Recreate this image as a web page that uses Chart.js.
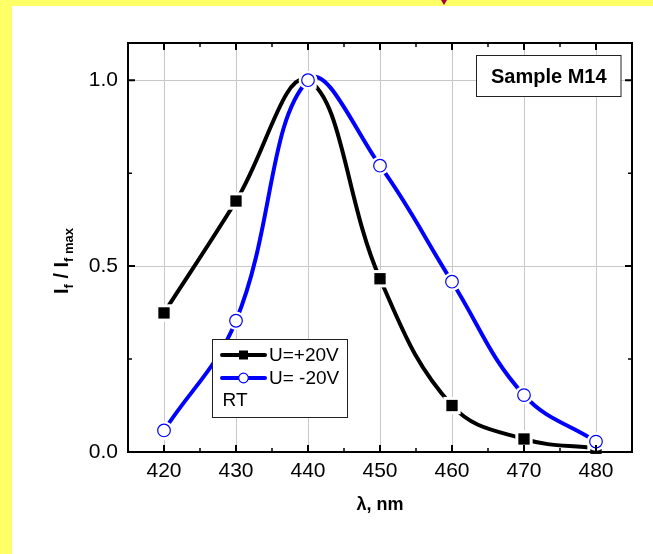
<!DOCTYPE html>
<html>
<head>
<meta charset="utf-8">
<script src="https://cdn.jsdelivr.net/npm/chart.js@4.4.1/dist/chart.umd.min.js"></script>
<style>
  html, body { margin: 0; padding: 0; }
  body { width: 653px; height: 554px; background: #ffff66; position: relative; overflow: hidden; }
  #panel { position: absolute; left: 12px; top: 6px; width: 641px; height: 548px; background: #fff; }
  #mark { position: absolute; left: 441px; top: 0; width: 0; height: 0;
          border-left: 3px solid transparent; border-right: 3px solid transparent; border-top: 5px solid #a8003a; }
</style>
</head>
<body>
<div id="panel"><canvas id="chart" width="641" height="548"></canvas></div>
<div id="mark"></div>
<script>
// data
const wavelengths = [420, 430, 440, 450, 460, 470, 480];
const plus20V = [0.374, 0.675, 1.0, 0.466, 0.125, 0.035, 0.01];
const minus20V = [0.058, 0.353, 1.0, 0.77, 0.458, 0.153, 0.028];

const xTicks = [420, 430, 440, 450, 460, 470, 480];
const xMinor = [425, 435, 445, 455, 465, 475];
const yTicks = [0, 0.5, 1.0];
const yMinor = [0.25, 0.75];

const seriesLabels = ['U=+20V', 'U= -20V'];
const legendNote = 'RT';
const sampleName = 'Sample M14';
const xTitle = 'λ, nm';

const FONT = "'Liberation Sans', Arial, sans-serif";

function toPoints(vals) {
  return wavelengths.map((x, i) => ({ x: x, y: vals[i] }));
}

// white gap around markers, like the original plot
const haloPlugin = {
  id: 'halo',
  afterDatasetDraw(chart, args) {
    const ctx = chart.ctx;
    const big = { left: -1e4, top: -1e4, right: 1e4, bottom: 1e4 };
    args.meta.data.forEach(p => {
      const o = p.options;
      ctx.save();
      ctx.fillStyle = '#fff';
      ctx.beginPath();
      if (o.pointStyle === 'rect') {
        const h = o.radius * Math.SQRT1_2 + 3;
        ctx.rect(p.x - h, p.y - h, 2 * h, 2 * h);
      } else {
        ctx.arc(p.x, p.y, o.radius + 3, 0, Math.PI * 2);
      }
      ctx.fill();
      ctx.restore();
      p.draw(ctx, big);
    });
  }
};

const decorPlugin = {
  id: 'decor',
  afterDraw(chart) {
    const ctx = chart.ctx;
    const a = chart.chartArea;
    const xs = chart.scales.x, ys = chart.scales.y;
    const ds = chart.data.datasets;

    // sample box
    ctx.save();
    ctx.fillStyle = '#fff';
    ctx.fillRect(464.5, 49.5, 144.5, 41);
    ctx.strokeStyle = '#222';
    ctx.lineWidth = 1;
    ctx.strokeRect(464.5, 49.5, 144.5, 41);
    ctx.fillStyle = '#000';
    ctx.font = 'bold 20px ' + FONT;
    ctx.textAlign = 'center';
    ctx.textBaseline = 'middle';
    ctx.fillText(sampleName, 536.8, 71);
    ctx.restore();

    // legend box
    ctx.save();
    ctx.fillStyle = '#fff';
    ctx.fillRect(200.5, 333.5, 135, 78);
    ctx.strokeStyle = '#222';
    ctx.lineWidth = 1;
    ctx.strokeRect(200.5, 333.5, 135, 78);
    const rows = [349, 372];
    [0, 1].forEach(i => {
      const d = ds[i];
      const y = rows[i];
      ctx.strokeStyle = d.borderColor;
      ctx.lineWidth = 4;
      ctx.lineCap = 'round';
      ctx.beginPath();
      ctx.moveTo(210, y);
      ctx.lineTo(253, y);
      ctx.stroke();
      ctx.beginPath();
      if (d.pointStyle === 'rect') {
        ctx.fillStyle = d.pointBackgroundColor;
        ctx.fillRect(231.5 - 4.5, y - 4.5, 9, 9);
      } else {
        ctx.fillStyle = '#fff';
        ctx.arc(231.5, y, 4.8, 0, Math.PI * 2);
        ctx.fill();
        ctx.lineWidth = 1.2;
        ctx.stroke();
      }
      ctx.fillStyle = '#000';
      ctx.font = '19px ' + FONT;
      ctx.textAlign = 'left';
      ctx.textBaseline = 'middle';
      ctx.fillText(d.label, 257, y + 1);
    });
    ctx.fillText(legendNote, 210.5, 395);
    ctx.restore();

    // frame and inward ticks
    ctx.save();
    ctx.strokeStyle = '#000';
    ctx.lineWidth = 2;
    ctx.strokeRect(a.left, a.top, a.right - a.left, a.bottom - a.top);
    const tick = (vals, len, w) => {
      ctx.lineWidth = w;
      ctx.beginPath();
      vals.forEach(v => {
        const x = xs.getPixelForValue(v);
        ctx.moveTo(x, a.bottom); ctx.lineTo(x, a.bottom - len);
        ctx.moveTo(x, a.top); ctx.lineTo(x, a.top + len);
      });
      ctx.stroke();
    };
    const tickY = (vals, len, w) => {
      ctx.lineWidth = w;
      ctx.beginPath();
      vals.forEach(v => {
        const y = ys.getPixelForValue(v);
        ctx.moveTo(a.left, y); ctx.lineTo(a.left + len, y);
        ctx.moveTo(a.right, y); ctx.lineTo(a.right - len, y);
      });
      ctx.stroke();
    };
    tick(xTicks, 7, 2);
    tick(xMinor, 4, 1.5);
    tickY(yTicks, 7, 2);
    tickY(yMinor, 4, 1.5);
    ctx.restore();

    // y title with subscripts
    ctx.save();
    const bigF = 'bold 20px ' + FONT, smallF = 'bold 13px ' + FONT;
    const parts = [['I', bigF, 0], ['f', smallF, 5], [' / I', bigF, 0], ['f max', smallF, 5]];
    let total = 0;
    parts.forEach(p => { ctx.font = p[1]; p.push(ctx.measureText(p[0]).width); total += p[3]; });
    ctx.translate(56, 255);
    ctx.rotate(-Math.PI / 2);
    ctx.fillStyle = '#000';
    ctx.textBaseline = 'alphabetic';
    let x = -total / 2;
    parts.forEach(p => {
      ctx.font = p[1];
      ctx.fillText(p[0], x, p[2]);
      x += p[3];
    });
    ctx.restore();
  }
};

new Chart(document.getElementById('chart'), {
  type: 'line',
  data: {
    datasets: [
      {
        label: seriesLabels[0],
        data: toPoints(plus20V),
        borderColor: '#000',
        backgroundColor: '#000',
        borderWidth: 4,
        pointStyle: 'rect',
        pointRadius: 8,
        pointBackgroundColor: '#000',
        pointBorderWidth: 0,
        tension: 0.4,
        order: 1,
        clip: false
      },
      {
        label: seriesLabels[1],
        data: toPoints(minus20V),
        borderColor: '#0000ff',
        backgroundColor: '#fff',
        borderWidth: 4,
        pointStyle: 'circle',
        pointRadius: 6.3,
        pointBackgroundColor: '#fff',
        pointBorderColor: '#0000ff',
        pointBorderWidth: 1.2,
        tension: 0.4,
        order: 0,
        clip: false
      }
    ]
  },
  options: {
    responsive: false,
    animation: false,
    events: [],
    layout: { padding: { top: 37, right: 21, left: 0, bottom: 0 } },
    plugins: { legend: { display: false }, tooltip: { enabled: false } },
    scales: {
      x: {
        type: 'linear',
        min: 415,
        max: 485,
        afterBuildTicks: s => { s.ticks = xTicks.map(v => ({ value: v })); },
        afterFit: s => { s.height = 102; },
        grid: { color: '#c8c8c8', lineWidth: 1, drawTicks: false },
        border: { display: false },
        ticks: { padding: 7, color: '#000', font: { family: FONT, size: 21 } },
        title: {
          display: true, text: xTitle, color: '#000',
          font: { family: FONT, size: 18, weight: 'bold' },
          padding: { top: 0, bottom: 38 }
        }
      },
      y: {
        type: 'linear',
        min: 0,
        max: 1.1,
        afterBuildTicks: s => { s.ticks = yTicks.map(v => ({ value: v })); },
        afterFit: s => { s.width = 116; },
        grid: { color: '#c8c8c8', lineWidth: 1, drawTicks: false },
        border: { display: false },
        ticks: {
          padding: 10, color: '#000', font: { family: FONT, size: 21 },
          callback: v => v.toFixed(1)
        }
      }
    }
  },
  plugins: [haloPlugin, decorPlugin]
});
</script>
</body>
</html>
